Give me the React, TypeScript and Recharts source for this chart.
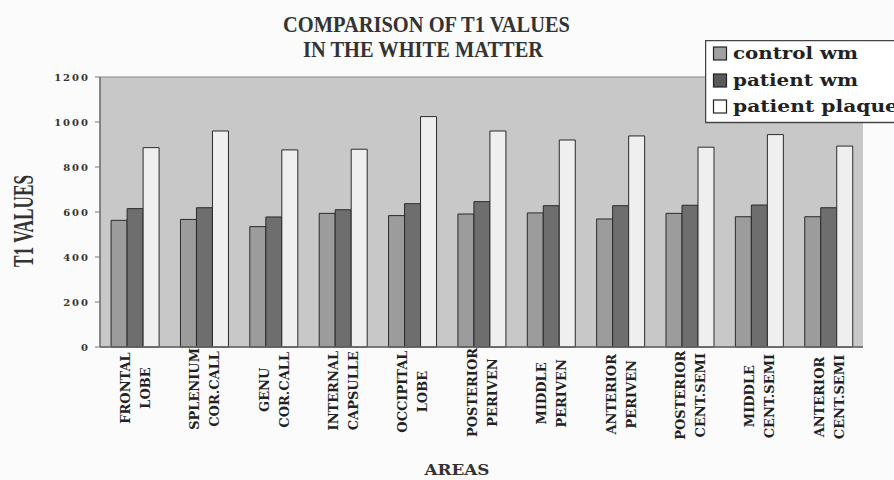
import React from "react";
import { BarChart, Bar, XAxis, YAxis, CartesianGrid, Legend, Customized } from "recharts";

const areasLine1 = ["FRONTAL", "SPLENIUM", "GENU", "INTERNAL", "OCCIPITAL", "POSTERIOR", "MIDDLE", "ANTERIOR", "POSTERIOR", "MIDDLE", "ANTERIOR"];
const areasLine2 = ["LOBE", "COR.CALL", "COR.CALL", "CAPSULLE", "LOBE", "PERIVEN", "PERIVEN", "PERIVEN", "CENT.SEMI", "CENT.SEMI", "CENT.SEMI"];
const controlWm = [563, 567, 535, 594, 584, 591, 596, 569, 594, 579, 579];
const patientWm = [615, 619, 578, 610, 637, 646, 628, 628, 630, 631, 619];
const patientPlaque = [886, 960, 876, 879, 1024, 960, 920, 938, 888, 944, 893];
const yTicks = [0, 200, 400, 600, 800, 1000, 1200];

const seriesNames = ["control wm", "patient wm", "patient plaque"];
const seriesColors = ["#9c9c9c", "#6e6e6e", "#efefef"];

const data = areasLine1.map((a, i) => ({
  name: a + " " + areasLine2[i],
  control: controlWm[i],
  patient: patientWm[i],
  plaque: patientPlaque[i],
}));

const XTick = (props: any) => {
  const { x, payload } = props;
  const i = payload.index;
  const cy = 388 + i * 0.9;
  return (
    <g transform={`translate(${x},${cy}) rotate(-90)`}>
      <text textAnchor="middle" fontFamily="DejaVu Serif" fontWeight="bold" fontSize={13} fill="#222">
        <tspan x={0} y={-4.7}>{areasLine1[i]}</tspan>
        <tspan x={0} y={15.3}>{areasLine2[i]}</tspan>
      </text>
    </g>
  );
};

const YTick = (props: any) => {
  const { x, y, payload } = props;
  return (
    <text x={x} y={y + 3.5} textAnchor="end" fontFamily="DejaVu Serif" fontWeight="bold" fontSize={10} letterSpacing={2} fill="#333">
      {payload.value}
    </text>
  );
};

const Titles = () => (
  <g fill="#333" fontFamily="Liberation Serif" fontWeight="bold">
    <text x={426.5} y={32} fontSize={24} textAnchor="middle" textLength={287} lengthAdjust="spacingAndGlyphs">
      COMPARISON OF T1 VALUES
    </text>
    <text x={423} y={57} fontSize={24} textAnchor="middle" textLength={240} lengthAdjust="spacingAndGlyphs">
      IN THE WHITE MATTER
    </text>
    <text transform="translate(32.5,221) rotate(-90)" fontSize={30} textAnchor="middle" textLength={92} lengthAdjust="spacingAndGlyphs">
      T1 VALUES
    </text>
    <text x={457} y={475} fontFamily="DejaVu Serif" fontSize={14} textAnchor="middle" textLength={65} lengthAdjust="spacingAndGlyphs">
      AREAS
    </text>
  </g>
);

const LegendBox = () => {
  const rows = [
    { y: 55, len: 125 },
    { y: 82, len: 125 },
    { y: 108, len: 165 },
  ];
  const iconFills = ["#a0a0a0", "#5a5a5a", "#ffffff"];
  return (
    <svg width={189} height={84} style={{ display: "block" }}>
      <rect x={0.5} y={0.5} width={200} height={82} fill="#ffffff" stroke="#444" strokeWidth={1.5} />
      {rows.map((r, i) => (
        <g key={i}>
          <rect x={8.5} y={r.y - 41 - 7} width={13} height={13} fill={iconFills[i]} stroke="#222" strokeWidth={1.2} />
          <text
            x={28}
            y={r.y - 41 + 5}
            fontFamily="DejaVu Serif"
            fontWeight="bold"
            fontSize={17}
            fill="#222"
            textLength={r.len}
            lengthAdjust="spacingAndGlyphs"
          >
            {seriesNames[i]}
          </text>
        </g>
      ))}
    </svg>
  );
};

export default function App() {
  return (
    <div style={{ position: "absolute", left: 0, top: 0, width: 894, height: 480, background: "#fbfbfb", overflow: "hidden" }}>
      <BarChart
        width={894}
        height={480}
        data={data}
        margin={{ top: 77, right: 31, bottom: 0, left: 0 }}
        barCategoryGap="16%"
        barGap={0}
      >
        <CartesianGrid vertical={false} fill="#c8c8c8" stroke="#8a8a8a" strokeWidth={1.2} />
        <XAxis
          dataKey="name"
          height={133}
          tickLine={false}
          interval={0}
          tick={<XTick />}
          axisLine={{ stroke: "#666", strokeWidth: 1.5 }}
        />
        <YAxis
          yAxisId="left"
          width={100}
          domain={[0, 1200]}
          ticks={yTicks}
          interval={0}
          tickSize={5}
          tickMargin={5}
          tick={<YTick />}
          tickLine={{ stroke: "#777" }}
          axisLine={{ stroke: "#666", strokeWidth: 1.5 }}
        />
        <YAxis
          yAxisId="right"
          orientation="right"
          width={0}
          domain={[0, 1200]}
          tick={false}
          tickLine={false}
          axisLine={{ stroke: "#666", strokeWidth: 1.5 }}
        />
        <Bar yAxisId="left" dataKey="control" name={seriesNames[0]} fill={seriesColors[0]} stroke="#2a2a2a" strokeWidth={1} isAnimationActive={false} />
        <Bar yAxisId="left" dataKey="patient" name={seriesNames[1]} fill={seriesColors[1]} stroke="#2a2a2a" strokeWidth={1} isAnimationActive={false} />
        <Bar yAxisId="left" dataKey="plaque" name={seriesNames[2]} fill={seriesColors[2]} stroke="#2a2a2a" strokeWidth={1} isAnimationActive={false} />
        <Legend
          layout="vertical"
          align="center"
          verticalAlign="middle"
          content={<LegendBox />}
          wrapperStyle={{ left: 705, top: 40, width: 189, height: 84 }}
        />
        <Customized component={Titles} />
      </BarChart>
    </div>
  );
}
